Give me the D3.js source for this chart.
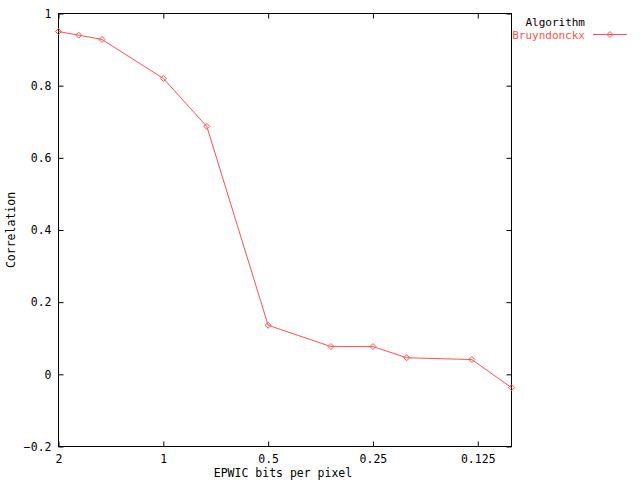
<!DOCTYPE html>
<html><head><meta charset="utf-8">
<script src="https://cdn.jsdelivr.net/npm/d3@7"></script>
<style>body{margin:0;background:#fff}svg{display:block}text{font-family:"DejaVu Sans Mono",monospace;font-size:11.5px;fill:#000}</style>
</head><body><svg id="c" width="640" height="480"></svg>
<script>
const bitsPerPixel = [2, 1.75, 1.5, 1, 0.75, 0.5, 0.33, 0.25, 0.2, 0.13, 0.1];
const correlation = [0.950, 0.940, 0.928, 0.820, 0.687, 0.136, 0.077, 0.077, 0.046, 0.041, -0.037];
const xTicks = [2, 1, 0.5, 0.25, 0.125];
const yTicks = [-0.2, 0, 0.2, 0.4, 0.6, 0.8, 1];
const seriesName = "Bruyndonckx";
const legendTitle = "Algorithm";
const xLabel = "EPWIC bits per pixel";
const yLabel = "Correlation";

const svg = d3.select("#c");
const L = 58.5, R = 511.5, T = 13.5, B = 446.5;
const red = "rgb(255,80,80)";
const x = d3.scaleLog().domain([2, 0.1]).range([L, R]);
const y = d3.scaleLinear().domain([-0.2, 1]).range([B, T]);

// frame
svg.append("rect").attr("x", L).attr("y", T).attr("width", R - L).attr("height", B - T)
  .attr("fill", "none").attr("stroke", "#000").attr("stroke-width", 1);

// y ticks (left and right, inward)
const yAxL = d3.axisLeft(y).tickValues(yTicks).tickSize(-5).tickPadding(7)
  .tickFormat(d => d === 0 ? "0" : d3.format("")(+d.toFixed(1)));
const gL = svg.append("g").attr("transform", `translate(${L},0)`).call(yAxL);
gL.select(".domain").remove();
gL.selectAll("text").style("font-family", "DejaVu Sans Mono").style("font-size", "11.5px").attr("fill", "#000");
const gR = svg.append("g").attr("transform", `translate(${R},0)`).call(d3.axisRight(y).tickValues(yTicks).tickSize(-5).tickFormat(""));
gR.select(".domain").remove();

// x ticks
const xAxB = d3.axisBottom(x).tickValues(xTicks).tickSize(-5).tickPadding(8).tickFormat(d => String(d));
const gB = svg.append("g").attr("transform", `translate(0,${B})`).call(xAxB);
gB.select(".domain").remove();
gB.selectAll("text").style("font-family", "DejaVu Sans Mono").style("font-size", "11.5px").attr("fill", "#000");
const gT = svg.append("g").attr("transform", `translate(0,${T})`).call(d3.axisTop(x).tickValues(xTicks).tickSize(-5).tickFormat(""));
gT.select(".domain").remove();
svg.selectAll(".tick line").attr("stroke", "#000");

// labels
svg.append("text").attr("x", 283).attr("y", 477).attr("text-anchor", "middle").text(xLabel);
svg.append("text").attr("transform", "translate(15,230) rotate(-90)").attr("text-anchor", "middle").text(yLabel);

// data line
const pts = bitsPerPixel.map((b, i) => [b, correlation[i]]);
svg.append("path").datum(pts)
  .attr("d", d3.line().x(d => x(d[0])).y(d => y(d[1])))
  .attr("fill", "none").attr("stroke", red).attr("stroke-width", 1);
const marker = (g, cx, cy) => {
  g.append("path").attr("d", `M${cx-3},${cy}L${cx},${cy-3}L${cx+3},${cy}L${cx},${cy+3}Z`)
    .attr("fill", "none").attr("stroke", red).attr("stroke-width", 1);
};
pts.forEach(d => marker(svg, x(d[0]), y(d[1])));

// legend
svg.append("text").attr("x", 585).attr("y", 26).attr("text-anchor", "end").style("font-size", "11px").text(legendTitle);
svg.append("text").attr("x", 585).attr("y", 38.5).attr("text-anchor", "end").style("font-size", "11px").style("fill", red).text(seriesName);
svg.append("line").attr("x1", 593).attr("x2", 627).attr("y1", 34.5).attr("y2", 34.5).attr("stroke", red);
marker(svg, 610, 34.5);
</script></body></html>
